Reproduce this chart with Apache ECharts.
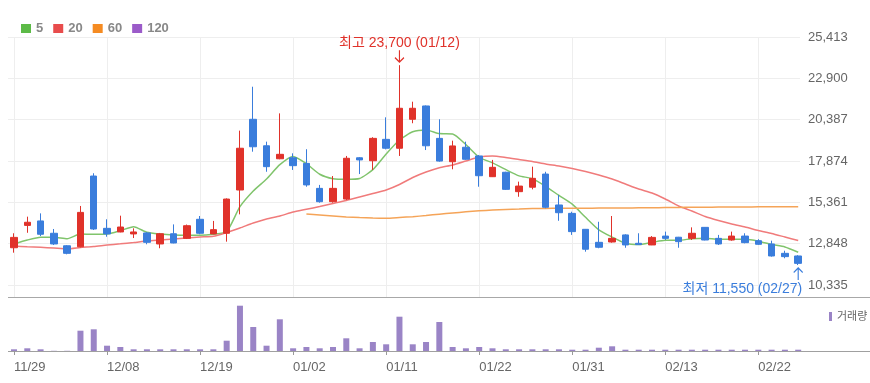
<!DOCTYPE html>
<html>
<head>
<meta charset="utf-8">
<script src="https://cdn.jsdelivr.net/npm/echarts@6/dist/echarts.min.js"></script>
<style>html,body{margin:0;padding:0;background:#fff}#c{width:870px;height:383px}</style>
</head>
<body>
<div id="c"></div>
<script>
const dates = ['11/29','11/30','12/01','12/04','12/05','12/06','12/07','12/08','12/11','12/12','12/13','12/14','12/15','12/18','12/19','12/20','12/21','12/22','12/26','12/27','12/28','01/02','01/03','01/04','01/05','01/08','01/09','01/10','01/11','01/12','01/15','01/16','01/17','01/18','01/19','01/22','01/23','01/24','01/25','01/26','01/29','01/30','01/31','02/01','02/02','02/05','02/06','02/07','02/08','02/13','02/14','02/15','02/16','02/19','02/20','02/21','02/22','02/23','02/26','02/27'];
const opens = [12600,13960,14230,13480,12720,12660,16960,13780,13560,13440,13500,12830,13450,13170,14330,13440,13480,16110,20410,18800,18010,18070,17730,16210,15400,15560,18070,17890,19190,18650,20410,21220,19250,17830,18710,18180,16920,17190,16010,16280,17080,15200,14690,13720,12930,12950,13380,12870,12770,13310,13240,13170,13840,13170,13070,13310,13030,12830,12260,12100];
const closes = [13230,14150,13420,12830,12260,14750,13740,13440,13860,13560,12930,13450,12890,13940,13480,13700,15560,18650,18740,17530,18280,17590,16420,15400,16210,18040,17940,19250,18650,21080,21080,18800,17870,18790,17980,16980,17490,16150,16350,16820,15060,14730,13580,12510,12630,13170,12770,12790,13230,13170,12970,13480,13070,12830,13310,12910,12810,12100,12060,11650];
const lows = [12300,13510,13310,12770,12200,12620,13680,13270,13540,13190,12810,12570,12870,13130,13420,13420,12970,14630,18440,17220,17980,17330,16310,15340,15340,15500,17080,17330,18580,18180,20170,18540,17830,17370,17940,16310,16900,16110,15700,16150,15000,14240,13380,12360,12570,12910,12600,12770,12760,13070,12600,13070,13050,12770,13030,12870,12770,12060,11960,11550];
const highs = [13480,14490,14690,13740,12760,15140,17130,14330,14550,13780,13550,13500,14020,14010,14530,14230,15600,19720,22390,19050,20770,18340,18590,16420,16960,18180,18110,19320,20530,23700,21480,21250,20410,19110,19050,18240,17940,17220,16620,17530,17220,15810,14790,13740,14180,14530,13420,13480,13310,13580,13260,13840,13860,13380,13580,13480,13120,13030,12420,12150];
const ma5 = [12830,13070,13235,13235,13150,13435,13420,13435,13640,13880,13540,13435,13375,13355,13355,13420,13575,15095,16050,16780,17650,18150,17710,17070,16800,16760,16810,17350,18300,19150,19650,19760,19540,19520,18870,18100,17760,17350,16970,16800,16330,15780,15250,14450,13690,13250,12870,12790,12920,13050,13050,13150,13180,13110,13120,13115,13000,12800,12650,12330];
const ma20 = [12706,12663,12627,12584,12536,12614,12675,12766,12840,12919,13010,13071,13132,13192,13253,13296,13527,13800,14104,14347,14530,14773,14937,15108,15290,15473,15685,15898,16111,16445,16871,17205,17460,17631,17874,18117,18178,18087,17965,17843,17691,17570,17418,17235,17023,16780,16475,16171,15928,15563,15138,14834,14499,14256,14043,13861,13648,13466,13253,13040];
const ma60 = [null,null,null,null,null,null,null,null,null,null,null,null,null,null,null,null,null,null,null,null,null,null,14651,14590,14530,14469,14432,14408,14396,14439,14487,14560,14639,14712,14785,14846,14895,14931,14955,14980,14992,15000,15000,15005,15010,15015,15020,15025,15030,15040,15050,15060,15065,15070,15075,15080,15085,15090,15095,15095];
const ma120 = [];
const volumes = [17,27,17,2,2,203,217,53,40,17,17,17,17,17,17,17,103,453,240,53,317,27,40,27,40,127,27,90,67,343,67,90,290,40,27,40,27,17,17,17,17,17,13,13,33,47,13,13,13,13,13,13,13,13,13,13,13,13,13,13];
const yTickValues = [10335,12848,15361,17874,20387,22900,25413];
const yTickLabels = ['10,335','12,848','15,361','17,874','20,387','22,900','25,413'];

const RED = '#e0322a', BLUE = '#3a7ddc';
const FONT = "'Liberation Sans', 'Noto Sans CJK KR', sans-serif";
const labelGridH = 248, priceGridH = 260;
const yMax = yTickValues[yTickValues.length - 1], yMinLbl = yTickValues[0];
const yMinPrice = yMax - priceGridH * (yMax - yMinLbl) / labelGridH;
const candleData = dates.map((d, i) => [opens[i], closes[i], lows[i], highs[i]]);
let hiIdx = 0, loIdx = 0;
highs.forEach((v, i) => { if (v > highs[hiIdx]) hiIdx = i; });
lows.forEach((v, i) => { if (v < lows[loIdx]) loIdx = i; });
const fmt = v => v.toLocaleString('en-US');
const every7 = (i) => i % 7 === 0;

const chart = echarts.init(document.getElementById('c'), null, {renderer: 'canvas'});
chart.setOption({
  animation: false,
  textStyle: {fontFamily: FONT},
  legend: [
    {data: [{name: '5', itemStyle: {color: '#5cba47'}}, {name: '20', itemStyle: {color: '#e84c4c'}}, {name: '60', itemStyle: {color: '#f58b22'}}, {name: '120', itemStyle: {color: '#9b5bc9'}}],
     left: 16, top: 17, icon: 'rect', itemWidth: 10, itemHeight: 9, itemGap: 10,
     textStyle: {color: '#888', fontWeight: 'bold', fontSize: 13, fontFamily: FONT}, selectedMode: false},
    {data: [{name: '거래량', itemStyle: {color: '#9a84c6'}}], left: 824, top: 306, icon: 'rect', itemWidth: 3, itemHeight: 9,
     textStyle: {color: '#666', fontSize: 11, fontFamily: FONT}, selectedMode: false}
  ],
  grid: [
    {left: 14, right: 71.8, top: 37, height: priceGridH},
    {left: 8, right: 70, top: 37, height: labelGridH},
    {left: 14, right: 71.8, top: 297, height: 54}
  ],
  xAxis: [
    {type: 'category', gridIndex: 0, data: dates, boundaryGap: false,
     axisLine: {show: false}, axisTick: {show: false}, axisLabel: {show: false},
     splitLine: {show: true, interval: every7, lineStyle: {color: '#eeeeee', width: 1}}},
    {type: 'category', gridIndex: 1, data: dates, show: false},
    {type: 'category', gridIndex: 2, data: dates, boundaryGap: false,
     axisLine: {show: false},
     axisTick: {show: true, interval: every7, length: 4, lineStyle: {color: '#999'}},
     axisLabel: {interval: every7, color: '#666', fontSize: 13, margin: 10, align: 'left', fontFamily: FONT},
     splitLine: {show: false}}
  ],
  yAxis: [
    {type: 'value', gridIndex: 0, min: yMinPrice, max: yMax, show: false, splitLine: {show: false}},
    {type: 'value', gridIndex: 1, position: 'right', min: 0, max: yTickLabels.length - 1, interval: 1,
     axisLine: {show: false}, axisTick: {show: false},
     axisLabel: {formatter: v => yTickLabels[v], color: '#666', fontSize: 13, margin: 8, fontFamily: FONT},
     splitLine: {show: true, lineStyle: {color: '#eeeeee', width: 1}}},
    {type: 'value', gridIndex: 2, min: 0, max: 540, show: false, splitLine: {show: false}}
  ],
  graphic: [
    {type: 'line', shape: {x1: 8, y1: 297.5, x2: 870, y2: 297.5}, style: {stroke: '#a8a8a8', lineWidth: 1}, silent: true},
    {type: 'line', shape: {x1: 8, y1: 351.5, x2: 870, y2: 351.5}, style: {stroke: '#a0a0a0', lineWidth: 1}, silent: true}
  ],
  series: [
    {type: 'line', xAxisIndex: 1, yAxisIndex: 1, data: [], silent: true},
    {name: '5', type: 'line', xAxisIndex: 0, yAxisIndex: 0, data: ma5, showSymbol: false, smooth: 0.2,
     lineStyle: {color: '#80c46c', width: 1.5}, itemStyle: {color: '#5cba47'}, z: 3},
    {name: '20', type: 'line', xAxisIndex: 0, yAxisIndex: 0, data: ma20, showSymbol: false, smooth: 0.2,
     lineStyle: {color: '#f07b7b', width: 1.5}, itemStyle: {color: '#e84c4c'}, z: 3},
    {name: '60', type: 'line', xAxisIndex: 0, yAxisIndex: 0, data: ma60, showSymbol: false, smooth: 0.2,
     lineStyle: {color: '#f5a458', width: 1.5}, itemStyle: {color: '#f58b22'}, z: 3},
    {name: '120', type: 'line', xAxisIndex: 0, yAxisIndex: 0, data: ma120, showSymbol: false,
     lineStyle: {color: '#a77bd0', width: 1.5}, itemStyle: {color: '#9b5bc9'}, z: 3},
    {name: 'price', type: 'candlestick', xAxisIndex: 0, yAxisIndex: 0, data: candleData, barWidth: 7, clip: false, z: 4,
     itemStyle: {color: RED, color0: BLUE, borderColor: RED, borderColor0: BLUE, borderWidth: 1},
     markPoint: {
       silent: true,
       data: [
         {coord: [dates[hiIdx], highs[hiIdx]], symbol: 'path://M4.5,0 L4.5,12 M0,7.5 L4.5,12 L9,7.5', symbolSize: [9, 12], symbolOffset: [0, -9],
          itemStyle: {color: 'none', borderColor: RED, borderWidth: 1.3},
          label: {show: true, position: 'top', distance: 1, offset: [0, 4], formatter: '최고 ' + fmt(highs[hiIdx]) + ' (' + dates[hiIdx] + ')', color: RED, fontSize: 14, fontFamily: FONT}},
         {coord: [dates[loIdx], lows[loIdx]], symbol: 'path://M4.5,12 L4.5,0 M0,4.5 L4.5,0 L9,4.5', symbolSize: [9, 12], symbolOffset: [0, 9],
          itemStyle: {color: 'none', borderColor: BLUE, borderWidth: 1.3},
          label: {show: true, position: 'bottom', distance: 1, align: 'right', offset: [4, -2], formatter: '최저 ' + fmt(lows[loIdx]) + ' (' + dates[loIdx] + ')', color: BLUE, fontSize: 14, fontFamily: FONT}}
       ]
     }},
    {name: '거래량', type: 'bar', xAxisIndex: 2, yAxisIndex: 2, data: volumes, barWidth: 6,
     itemStyle: {color: '#9a84c6'}}
  ]
});
</script>
</body>
</html>
